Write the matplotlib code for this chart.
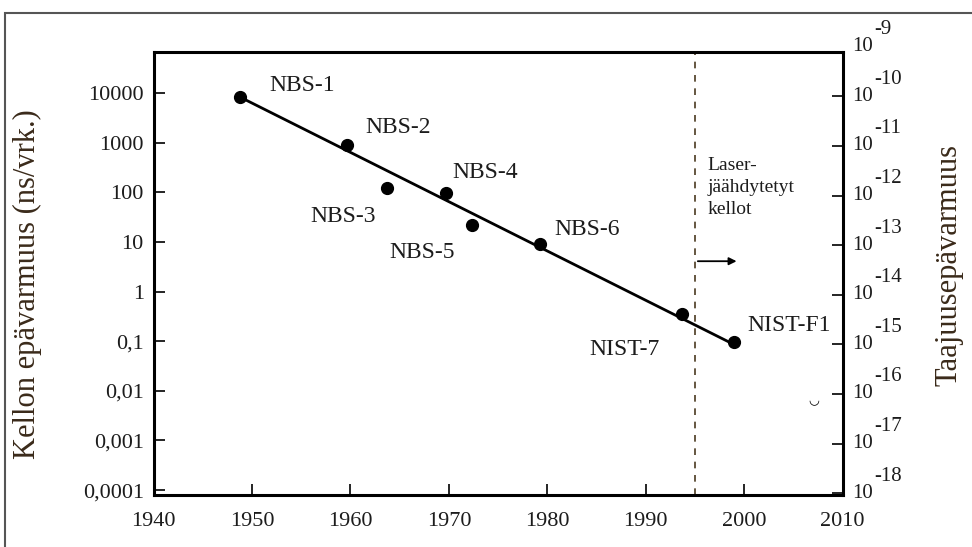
import matplotlib
matplotlib.use("Agg")
import matplotlib.pyplot as plt
from matplotlib.patches import Rectangle
from matplotlib.ticker import FixedLocator, FixedFormatter, NullFormatter
from matplotlib.transforms import offset_copy

plt.rcParams['font.family'] = ['Liberation Serif', 'DejaVu Serif']

# clocks: year and clock uncertainty (ns / day)
CLOCKS = ["NBS-1", "NBS-2", "NBS-3", "NBS-4", "NBS-5", "NBS-6", "NIST-7", "NIST-F1"]
YEARS = [1948.8, 1959.6, 1963.7, 1969.7, 1972.3, 1979.3, 1993.7, 1999.0]
ERRORS = [8300, 900, 120, 95, 22, 9, 0.36, 0.095]

# label anchor points (year, value)
LABEL_YEARS = [1951.8, 1961.5, 1955.9, 1970.3, 1964.0, 1980.75, 1984.3, 2000.3]
LABEL_VALUES = [14500, 2050, 33, 255, 6.2, 17.5, 0.068, 0.21]

# trend line
TREND_YEARS = [1948.8, 1999.0]
TREND_VALUES = [8300, 0.085]

LASER_YEAR = 1995
LASER_TEXT = "Laser-\njäähdytetyt\nkellot"

LEFT_TICKS = [0.0001, 0.001, 0.01, 0.1, 1, 10, 100, 1000, 10000]
LEFT_LABELS = ["0,0001", "0,001", "0,01", "0,1", "1", "10", "100", "1000", "10000"]
RIGHT_EXPS = [-9, -10, -11, -12, -13, -14, -15, -16, -17, -18]
NS_PER_DAY = 86400e9

TXT = "#1c1c1c"
LBL = "#3a2a1a"

fig = plt.figure(figsize=(9.72, 5.47), dpi=100)
ax = fig.add_axes([0.158, 0.095, 0.709, 0.81])

# outer frame
fig.patches.append(Rectangle((0.005, -0.05), 1.1, 1.026, transform=fig.transFigure,
                             fill=False, edgecolor="#555555", lw=1.5))

ax.plot(TREND_YEARS, TREND_VALUES, color="black", lw=2)
ax.plot(YEARS, ERRORS, "o", color="black", ms=8.5)
for name, x, y in zip(CLOCKS, LABEL_YEARS, LABEL_VALUES):
    ax.text(x, y, name, fontsize=17, va="center", ha="left", color=TXT)

ax.axvline(LASER_YEAR, color="#4a3a20", lw=1.2, ls=(0, (4, 4)))
ax.text(1996.3, 10**2.72, LASER_TEXT, fontsize=14, va="top", ha="left",
        linespacing=1.4, color=TXT)
ax.annotate("", xy=(1999.5, 4.1), xytext=(1995.0, 4.1),
            arrowprops=dict(arrowstyle="-|>", color="black", lw=1.3,
                            mutation_scale=11))
ax.text(2007.1, 10**-2.2, "◡", fontsize=9, ha="center", va="center",
        family="DejaVu Sans")

ax.set_yscale("log")
ax.set_xlim(1940, 2010)
ax.set_ylim(10**-4.1, 10**4.83)
ax.set_xticks(range(1940, 2011, 10))
ax.yaxis.set_major_locator(FixedLocator(LEFT_TICKS))
ax.yaxis.set_major_formatter(FixedFormatter(LEFT_LABELS))
ax.yaxis.set_minor_locator(FixedLocator([]))
ax.tick_params(direction="in", length=8, width=1.2, labelsize=16, pad=7,
               labelcolor=TXT)
ax.tick_params(axis="x", pad=12)
for s in ax.spines.values():
    s.set_linewidth(2.2)
ax.set_ylabel("Kellon epävarmuus (ns/vrk.)", fontsize=22, color=LBL)
ax.yaxis.set_label_coords(-0.162, 0.475)

# right axis: frequency uncertainty
ax2 = ax.twinx()
ax2.set_yscale("log")
lo, hi = ax.get_ylim()
ax2.set_ylim(lo / NS_PER_DAY, hi / NS_PER_DAY)
ax2.yaxis.set_major_locator(FixedLocator([10.0**e for e in RIGHT_EXPS[1:]]))
ax2.yaxis.set_major_formatter(NullFormatter())
ax2.yaxis.set_minor_locator(FixedLocator([]))
ax2.tick_params(direction="in", length=8, width=1.2)
ytrans = ax2.get_yaxis_transform()
base_tr = offset_copy(ytrans, fig=fig, x=9, y=0, units="dots")
exp_tr = offset_copy(ytrans, fig=fig, x=32, y=17, units="dots")
for e in RIGHT_EXPS:
    ax2.text(1.0, 10.0**e, "10", transform=base_tr, fontsize=15, ha="left",
             va="center", color=TXT, clip_on=False)
    ax2.text(1.0, 10.0**e, "%d" % e, transform=exp_tr, fontsize=15, ha="left",
             va="center", color=TXT, clip_on=False)
ax2.set_ylabel("Taajuusepävarmuus", fontsize=22, color=LBL)
ax2.yaxis.set_label_coords(1.133, 0.52)

fig.savefig("out.png", dpi=100)
